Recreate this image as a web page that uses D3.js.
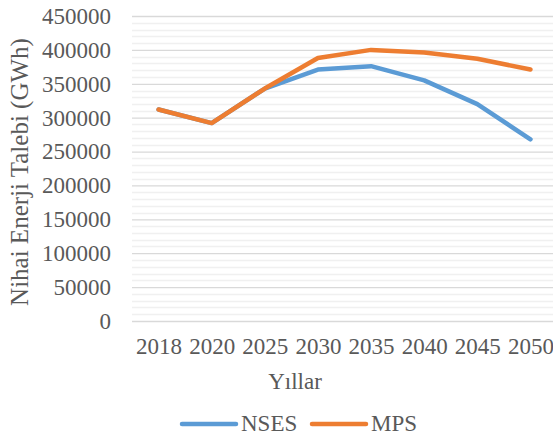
<!DOCTYPE html>
<html lang="tr">
<head>
<meta charset="UTF-8" />
<title>Nihai Enerji Talebi</title>
<script src="https://d3js.org/d3.v7.min.js"></script>
<style>
  body { margin: 0; background: #fff; }
  text { font-family: "Liberation Serif", "Times New Roman", serif; fill: #595959; }
</style>
</head>
<body>
<svg width="553" height="437"></svg>
<script>
// data
var years = ["2018", "2020", "2025", "2030", "2035", "2040", "2045", "2050"];
var nses = [312000, 292000, 343000, 371000, 376000, 355000, 320000, 268000];
var mps  = [312000, 292000, 343000, 388000, 400000, 396000, 387000, 371000];
var yTicks = [0, 50000, 100000, 150000, 200000, 250000, 300000, 350000, 400000, 450000];

var svg = d3.select("svg");

var plotLeft = 132, plotRight = 557, plotTop = 16, plotBottom = 321;

var x = d3.scalePoint().domain(years).range([plotLeft, plotRight]).padding(0.5);
var y = d3.scaleLinear().domain([0, 450000]).range([plotBottom, plotTop]);

// minor gridlines
svg.append("g")
  .selectAll("line")
  .data(d3.range(10000, 450000, 10000).filter(function(d) { return d % 50000 != 0; }))
  .enter().append("line")
  .attr("x1", plotLeft).attr("x2", plotRight)
  .attr("y1", function(d) { return Math.round(y(d)) + 0.5; })
  .attr("y2", function(d) { return Math.round(y(d)) + 0.5; })
  .attr("stroke", "#f0f0f0")
  .attr("stroke-width", 1.3);

// major gridlines + labels
var yAxis = svg.append("g")
  .attr("transform", "translate(" + plotLeft + ",0)")
  .call(d3.axisLeft(y).tickValues(yTicks).tickSize(-(plotRight - plotLeft)).tickPadding(21).tickFormat(d3.format("d")));
yAxis.select(".domain").remove();
yAxis.selectAll("line").attr("stroke", "#d9d9d9").attr("stroke-width", 1.3);
yAxis.selectAll("text")
  .attr("font-size", "23px")
  .attr("font-family", "Liberation Serif, serif")
  .attr("fill", "#595959");

// x labels
var xAxis = svg.append("g")
  .attr("transform", "translate(0," + plotBottom + ")")
  .call(d3.axisBottom(x).tickSize(0).tickPadding(17));
xAxis.select(".domain").remove();
xAxis.selectAll("text")
  .attr("font-size", "23px")
  .attr("font-family", "Liberation Serif, serif")
  .attr("fill", "#595959");

// lines
var line = d3.line()
  .x(function(d, i) { return x(years[i]); })
  .y(function(d) { return y(d); });

svg.append("path").datum(nses)
  .attr("d", line)
  .attr("fill", "none")
  .attr("stroke", "#5B9BD5")
  .attr("stroke-width", 4.5)
  .attr("stroke-linecap", "round")
  .attr("stroke-linejoin", "round");

svg.append("path").datum(mps)
  .attr("d", line)
  .attr("fill", "none")
  .attr("stroke", "#ED7D31")
  .attr("stroke-width", 4.5)
  .attr("stroke-linecap", "round")
  .attr("stroke-linejoin", "round");

// axis titles
svg.append("text")
  .attr("transform", "translate(28,172) rotate(-90)")
  .attr("text-anchor", "middle")
  .attr("font-size", "25px")
  .text("Nihai Enerji Talebi (GWh)");

svg.append("text")
  .attr("x", 295)
  .attr("y", 389)
  .attr("text-anchor", "middle")
  .attr("font-size", "23px")
  .text("Yıllar");

// legend
var legend = [["NSES", "#5B9BD5", 182], ["MPS", "#ED7D31", 312]];
var lg = svg.append("g").selectAll("g").data(legend).enter().append("g");
lg.append("line")
  .attr("x1", function(d) { return d[2]; })
  .attr("x2", function(d) { return d[2] + 54; })
  .attr("y1", 424).attr("y2", 424)
  .attr("stroke", function(d) { return d[1]; })
  .attr("stroke-width", 4.5)
  .attr("stroke-linecap", "round");
lg.append("text")
  .attr("x", function(d) { return d[2] + 59; })
  .attr("y", 431)
  .attr("font-size", "23px")
  .text(function(d) { return d[0]; });
</script>
</body>
</html>
